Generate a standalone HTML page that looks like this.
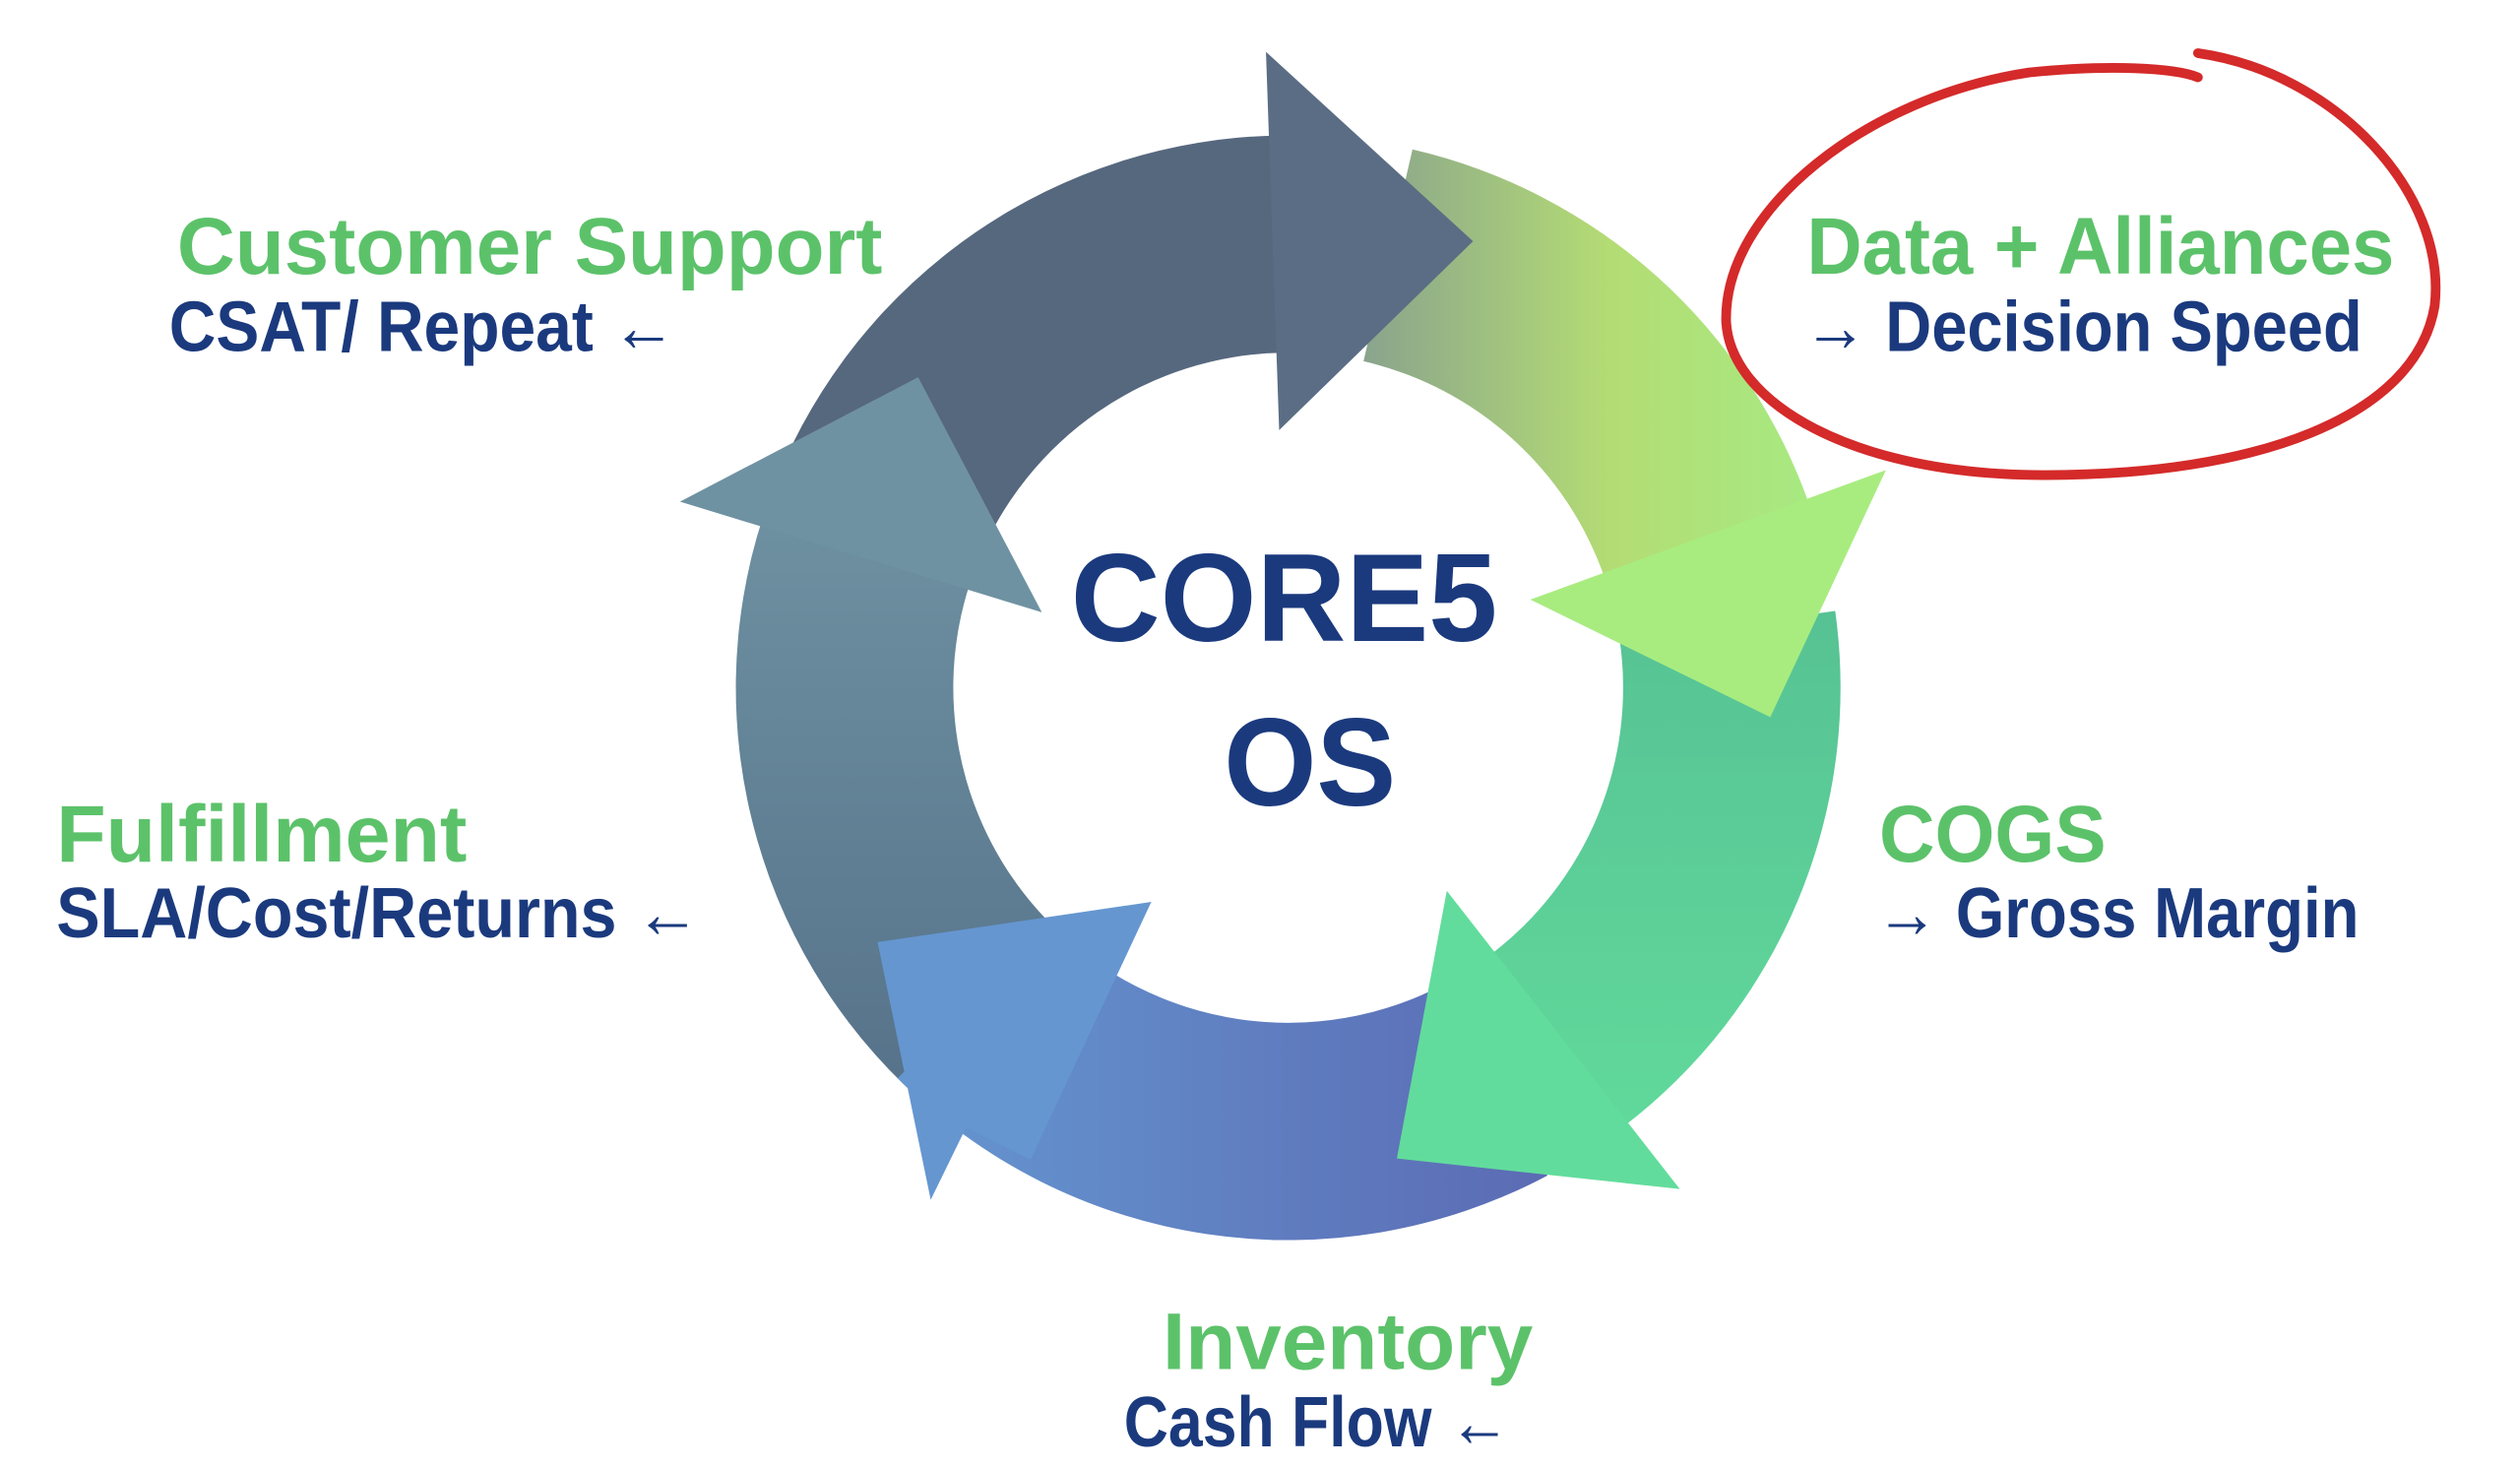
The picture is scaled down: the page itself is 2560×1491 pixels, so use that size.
<!DOCTYPE html>
<html><head><meta charset="utf-8"><style>
html,body{margin:0;padding:0;background:#fff;overflow:hidden}
svg{display:block}
text{font-family:"Liberation Sans",sans-serif;font-weight:bold}
.g{fill:#5cc26a}.n{fill:#1b3a7e}
</style></head><body>
<svg id="s" width="2560" height="1491" viewBox="0 0 1565 911.5" preserveAspectRatio="none">
<defs>
<linearGradient id="gy" x1="850" y1="0" x2="1150" y2="0" gradientUnits="userSpaceOnUse">
<stop offset="0" stop-color="#8aa58c"/><stop offset="0.5" stop-color="#b4dc74"/><stop offset="1" stop-color="#a5ec84"/></linearGradient>
<linearGradient id="gr" x1="0" y1="350" x2="0" y2="740" gradientUnits="userSpaceOnUse">
<stop offset="0" stop-color="#56c093"/><stop offset="1" stop-color="#62dc9c"/></linearGradient>
<linearGradient id="bl" x1="560" y1="0" x2="960" y2="0" gradientUnits="userSpaceOnUse">
<stop offset="0" stop-color="#6596d0"/><stop offset="1" stop-color="#5b6bb4"/></linearGradient>
<linearGradient id="sl" x1="0" y1="300" x2="0" y2="680" gradientUnits="userSpaceOnUse">
<stop offset="0" stop-color="#6f92a2"/><stop offset="1" stop-color="#56728a"/></linearGradient>
</defs>
<g id="ring"></g>
<path d="M1365,33 C1450,45 1520,120 1512,190 C1500,260 1400,295 1270,295 C1150,295 1075,250 1072,200 C1070,130 1160,60 1260,45 C1310,40 1350,42 1365,48" fill="none" stroke="#d42a2a" stroke-width="6" stroke-linecap="round"/>
<text class="g" x="110" y="170" font-size="50" textLength="438" lengthAdjust="spacingAndGlyphs">Customer Support</text>
<text class="n" x="105" y="218" font-size="44" textLength="315" lengthAdjust="spacingAndGlyphs">CSAT/ Repeat ←</text>
<text class="g" x="1122" y="170" font-size="50" textLength="365" lengthAdjust="spacingAndGlyphs">Data + Alliances</text>
<text class="n" x="1120" y="218" font-size="44" textLength="347" lengthAdjust="spacingAndGlyphs">→ Decision Speed</text>
<text class="g" x="35" y="535" font-size="50" textLength="255" lengthAdjust="spacingAndGlyphs">Fulfillment</text>
<text class="n" x="35" y="582" font-size="44" textLength="400" lengthAdjust="spacingAndGlyphs">SLA/Cost/Returns ←</text>
<text class="g" x="1167" y="535" font-size="50" textLength="141" lengthAdjust="spacingAndGlyphs">COGS</text>
<text class="n" x="1165" y="582" font-size="44" textLength="300" lengthAdjust="spacingAndGlyphs">→ Gross Margin</text>
<text class="g" x="722" y="850" font-size="50" textLength="230" lengthAdjust="spacingAndGlyphs">Inventory</text>
<text class="n" x="698" y="898" font-size="44" textLength="240" lengthAdjust="spacingAndGlyphs">Cash Flow ←</text>
<text class="n" x="665" y="398" font-size="78" textLength="265" lengthAdjust="spacingAndGlyphs">CORE5</text>
<text class="n" x="760" y="500" font-size="78" textLength="107" lengthAdjust="spacingAndGlyphs">OS</text>
</svg>
<script>
var cx=800,cy=427,R=343,r=208,NS="http://www.w3.org/2000/svg";
function P(a,rad){a=a*Math.PI/180;return (cx+rad*Math.cos(a)).toFixed(1)+","+(cy+rad*Math.sin(a)).toFixed(1);}
function body(a0,a1){return "M"+P(a0,R)+" A"+R+","+R+" 0 0 1 "+P(a1,R)+" L"+P(a1,r)+" A"+r+","+r+" 0 0 0 "+P(a0,r)+"Z";}
function head(b,t){return "M"+P(b,395)+" L"+P(t,300)+" L"+P(b,160)+"Z";}
var g=document.getElementById("ring");
function add(d,f){var p=document.createElementNS(NS,"path");p.setAttribute("d",d);p.setAttribute("fill",f);g.appendChild(p);}
add(body(130,198),"url(#sl)");
add(body(62,135),"url(#bl)");
add("M715,560 L545,585 L578,745 L600,700 L640,720 Z","#6596d0");
add(body(352,53),"url(#gr)");
add(head(52,77),"#62dc9c");
add(body(283,341),"url(#gy)");
add(head(340,3.5),"#a8ec80");
add(body(202,269),"#56687e");
add(head(268,292.5),"#5a6d84");
add(head(197,220),"#6f92a2");
</script>
</body></html>
